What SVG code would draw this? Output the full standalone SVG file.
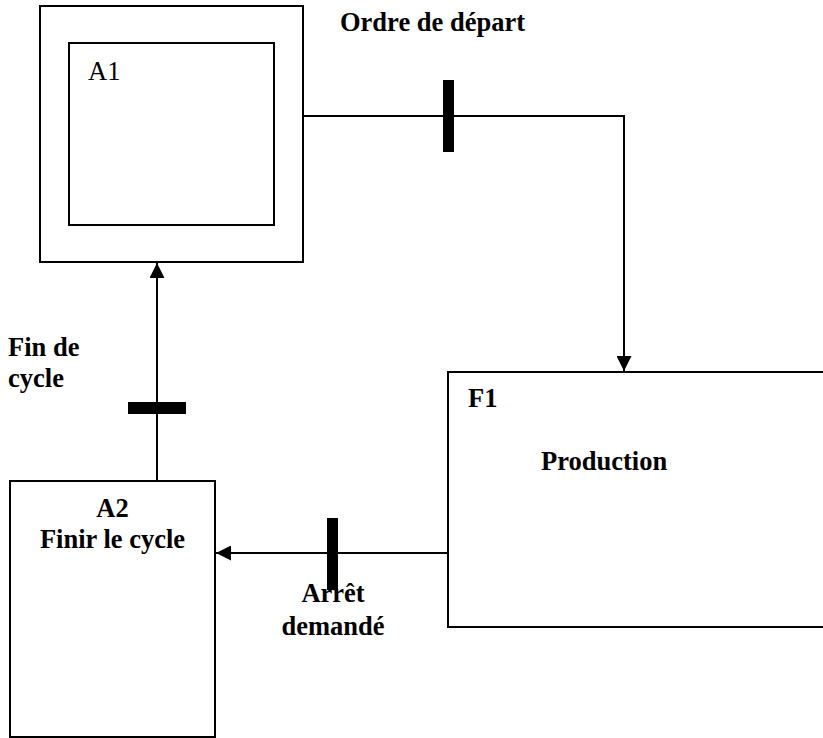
<svg xmlns="http://www.w3.org/2000/svg" width="823" height="738" viewBox="0 0 823 738">
<defs>
<style>
.box{fill:#fff;stroke:#000;stroke-width:2}
.ln{fill:none;stroke:#000;stroke-width:2}
.bar{fill:#000}
.t{font-family:"Liberation Serif","Times New Roman",serif;font-size:26.5px;fill:#000}
.b{font-weight:bold}
</style>
<marker id="ah" viewBox="0 0 15 15" refX="15" refY="7.5" markerWidth="15" markerHeight="15" orient="auto" markerUnits="userSpaceOnUse">
<path d="M0,0 L15,7.5 L0,15 Z" fill="#000"/>
</marker>
</defs>
<g id="A1">
<rect class="box" x="40" y="6" width="263" height="256"/>
<rect class="box" x="69" y="43" width="205" height="182"/>
<text class="t" x="88" y="80">A1</text>
</g>
<g id="F1">
<rect class="box" x="448" y="372" width="400" height="255"/>
<text class="t b" x="468" y="407">F1</text>
<text class="t b" x="541" y="470">Production</text>
</g>
<g id="A2">
<rect class="box" x="10" y="481" width="205" height="256"/>
<text class="t b" x="112.5" y="517" text-anchor="middle">A2</text>
<text class="t b" x="112.5" y="548" text-anchor="middle">Finir le cycle</text>
</g>
<g id="connectors">
<polyline class="ln" points="303,116 624,116 624,371" marker-end="url(#ah)"/>
<rect class="bar" x="443" y="80" width="11" height="72"/>
<line class="ln" x1="448" y1="553" x2="216" y2="553" marker-end="url(#ah)"/>
<rect class="bar" x="327" y="518" width="11" height="72"/>
<line class="ln" x1="157" y1="481" x2="157" y2="263" marker-end="url(#ah)"/>
<rect class="bar" x="128" y="402" width="58" height="12"/>
</g>
<g id="labels">
<text class="t b" x="340" y="31">Ordre de départ</text>
<text class="t b" x="8" y="356">Fin de</text>
<text class="t b" x="8" y="387">cycle</text>
<text class="t b" x="333" y="602" text-anchor="middle">Arrêt</text>
<text class="t b" x="333" y="635" text-anchor="middle">demandé</text>
</g>
</svg>
